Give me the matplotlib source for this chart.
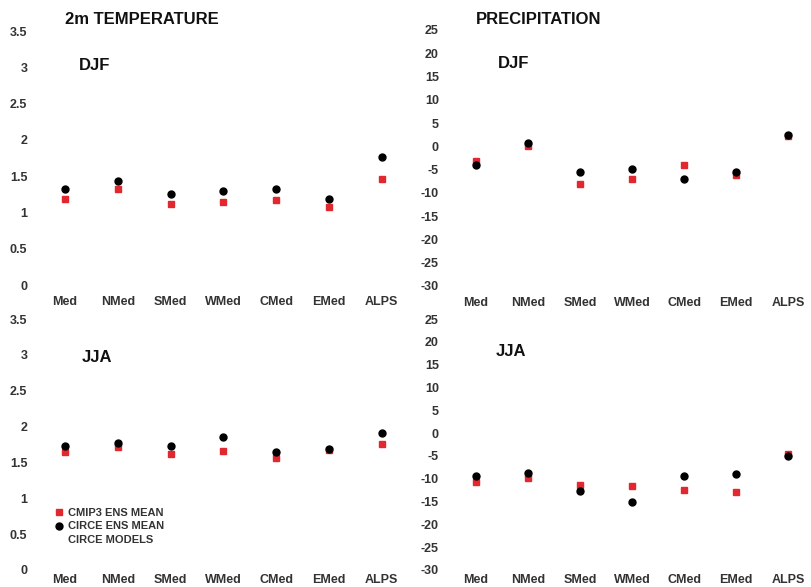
import matplotlib
matplotlib.use('Agg')
import matplotlib.pyplot as plt
from matplotlib.lines import Line2D

regions = ['Med', 'NMed', 'SMed', 'WMed', 'CMed', 'EMed', 'ALPS']

# 2m temperature change (K)
tas_djf_cmip = [1.19, 1.32, 1.12, 1.15, 1.17, 1.07, 1.46]
tas_djf_circe = [1.32, 1.43, 1.25, 1.30, 1.32, 1.18, 1.76]
tas_jja_cmip = [1.65, 1.71, 1.62, 1.66, 1.56, 1.68, 1.76]
tas_jja_circe = [1.73, 1.77, 1.73, 1.86, 1.65, 1.69, 1.91]

# precipitation change (%)
pr_djf_cmip = [-3.2, 0.1, -8.0, -7.1, -3.9, -6.2, 2.2]
pr_djf_circe = [-3.9, 0.65, -5.5, -4.8, -7.1, -5.5, 2.4]
pr_jja_cmip = [-10.8, -9.9, -11.4, -11.6, -12.5, -12.8, -4.6]
pr_jja_circe = [-9.4, -8.8, -12.6, -15.2, -9.4, -9.0, -5.1]

tas_ticks = [0, 0.5, 1, 1.5, 2, 2.5, 3, 3.5]
pr_ticks = [-30, -25, -20, -15, -10, -5, 0, 5, 10, 15, 20, 25]

red = '#e0282e'
W, H = 811, 587
fig = plt.figure(figsize=(W / 100, H / 100), dpi=100)


def make_ax(left_px, top_px, bottom_px, width_px):
    return fig.add_axes([left_px / W, 1 - bottom_px / H, width_px / W, (bottom_px - top_px) / H])


def style(ax, ticks, ylim, xpad):
    x = range(len(regions))
    ax.set_xlim(-0.5, len(regions) - 0.5)
    ax.set_ylim(*ylim)
    ax.set_yticks(ticks)
    ax.set_yticklabels([f'{t:g}' for t in ticks])
    ax.set_xticks(list(x))
    ax.set_xticklabels(regions)
    for s in ax.spines.values():
        s.set_visible(False)
    ax.tick_params(length=0, labelsize=9, colors='#333333')
    ax.tick_params(axis='y', pad=8)
    ax.tick_params(axis='x', pad=xpad)
    for lab in ax.get_xticklabels() + ax.get_yticklabels():
        lab.set_fontweight('bold')


def draw(ax, cmip, circe):
    x = range(len(regions))
    ax.plot(x, cmip, 's', color=red, markersize=5, linestyle='none')
    ax.plot(x, circe, 'o', color='black', markersize=5, linestyle='none')


plt.rcParams['font.family'] = ['Liberation Sans', 'DejaVu Sans']

ax1 = make_ax(38.6, 31, 285, 369.6)
draw(ax1, tas_djf_cmip, tas_djf_circe)
style(ax1, tas_ticks, (0, 3.5), 8)

ax2 = make_ax(450, 30, 286, 364)
draw(ax2, pr_djf_cmip, pr_djf_circe)
style(ax2, pr_ticks, (-30, 25), 8)

ax3 = make_ax(38.6, 319, 570, 369.6)
draw(ax3, tas_jja_cmip, tas_jja_circe)
style(ax3, tas_ticks, (0, 3.5), 3)

ax4 = make_ax(450, 319, 570, 364)
draw(ax4, pr_jja_cmip, pr_jja_circe)
style(ax4, pr_ticks, (-30, 25), 3)

tf = dict(fontsize=12, fontweight='bold', color='#111111')
fig.text(65 / W, 1 - 20 / H, '2m TEMPERATURE', va='center', ha='left', **tf)
fig.text(476 / W, 1 - 20 / H, 'PRECIPITATION', va='center', ha='left', **tf)
fig.text(79 / W, 1 - 66 / H, 'DJF', va='center', ha='left', **tf)
fig.text(498 / W, 1 - 64 / H, 'DJF', va='center', ha='left', **tf)
fig.text(82 / W, 1 - 358 / H, 'JJA', va='center', ha='left', **tf)
fig.text(496 / W, 1 - 351 / H, 'JJA', va='center', ha='left', **tf)

handles = [
    Line2D([], [], marker='s', color=red, linestyle='none', markersize=5),
    Line2D([], [], marker='o', color='black', linestyle='none', markersize=5),
    Line2D([], [], marker='', linestyle='none'),
]
labels = ['CMIP3 ENS MEAN', 'CIRCE ENS MEAN', 'CIRCE MODELS']
leg = ax3.legend(handles, labels, loc='upper left', bbox_to_anchor=(50 / W, 1 - 502 / H),
                 bbox_transform=fig.transFigure, frameon=False, fontsize=8,
                 handlelength=0.6, handletextpad=0.5, labelspacing=0.35, borderpad=0)
for t in leg.get_texts():
    t.set_color('#333333')
    t.set_fontweight('bold')

fig.savefig('out.png', dpi=100)
